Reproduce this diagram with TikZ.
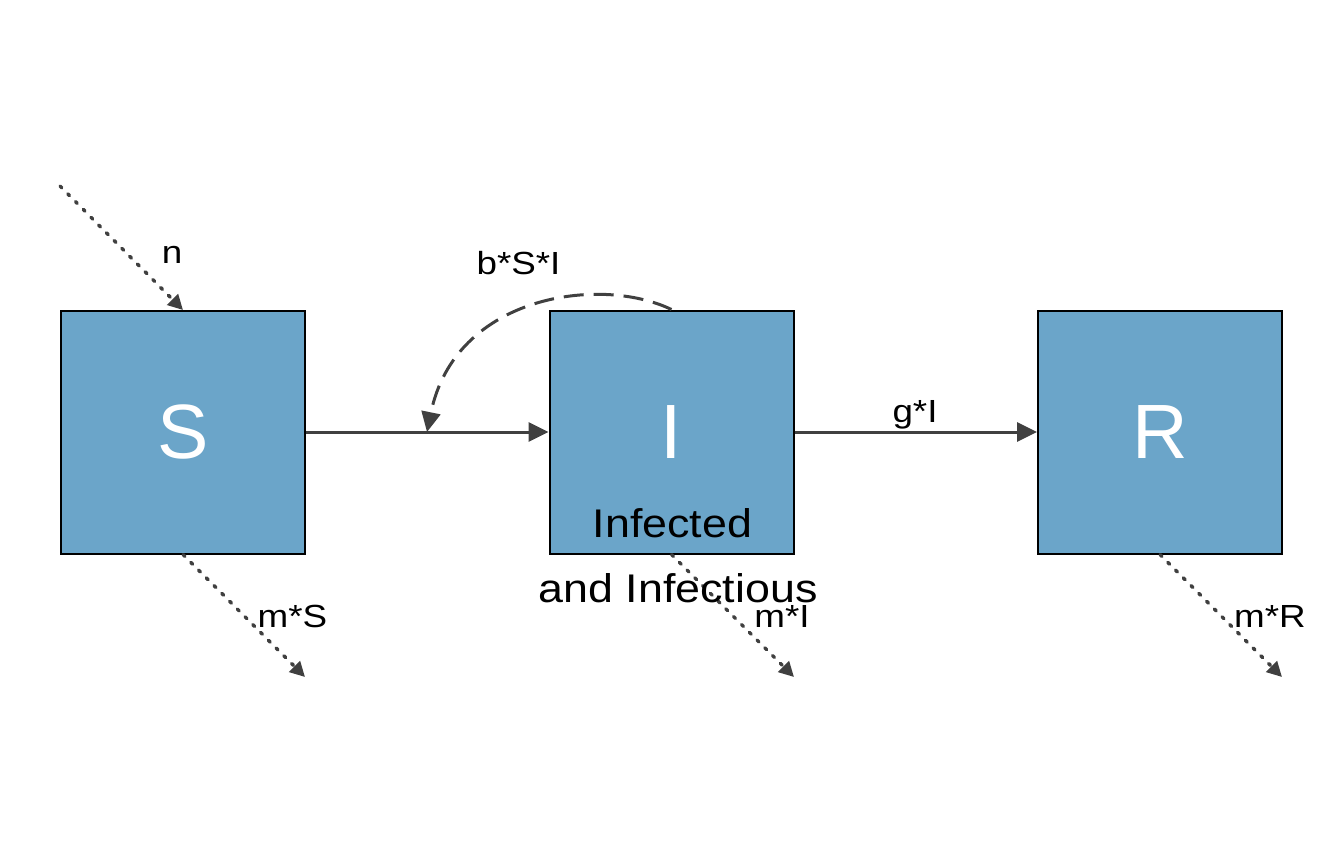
\documentclass[tikz,border=0pt]{standalone}
\usepackage{fontspec}
\setmainfont{Liberation Sans}
\usetikzlibrary{arrows.meta}
\definecolor{boxblue}{HTML}{6BA5C9}
\definecolor{flowgray}{HTML}{404040}
\newcommand{\wlab}[1]{\scalebox{1.15}[1]{#1}}
\newcommand{\wbig}[1]{\scalebox{1.12}[1]{#1}}
\tikzset{
  comp/.style={draw=black, line width=2pt, fill=boxblue, minimum width=244pt, minimum height=243pt, inner sep=0pt, text=white, font=\fontsize{77}{77}\selectfont},
  flow/.style={draw=flowgray, line width=3pt, -{Triangle[length=20pt,width=19pt]}},
  inter/.style={draw=flowgray, line width=3pt, dash pattern=on 20pt off 10pt, -{Triangle[length=20pt,width=19pt]}},
  extflow/.style={draw=flowgray, line width=3.5pt, line cap=round, dash pattern=on 2.5pt off 8.5pt, -{Triangle[length=15pt,width=15pt]}},
  lab/.style={font=\fontsize{32}{32}\selectfont, text=black, inner sep=0pt, anchor=base},
  biglab/.style={font=\fontsize{40}{40}\selectfont, text=black, inner sep=0pt, anchor=base}
}
\begin{document}
\begin{tikzpicture}[x=1pt, y=-1pt]
\useasboundingbox (0,0) rectangle (1344,865);
\node[comp] (S) at (183,432) {S};
\node[comp] (I) at (671.5,432) {I};
\node[comp] (R) at (1160,432) {R};
\coordinate (nsrc) at (60,186);
\coordinate (ntgt) at (183,310);
\coordinate (mS) at (305,677);
\coordinate (mI) at (794,677);
\coordinate (mR) at (1282,677);
\coordinate (hit) at (427,432);
\draw[flow] (S.east) -- (I.west);
\draw[flow] (I.east) -- (R.west);
\draw[inter] (I.north) .. controls (600,275) and (455,295) .. (hit);
\draw[extflow] (nsrc) -- (ntgt);
\draw[extflow] (S.south) -- (mS);
\draw[extflow] (I.south) -- (mI);
\draw[extflow] (R.south) -- (mR);
\node[lab] (ln) at (172,263) {\wlab{n}};
\node[lab] (lb) at (518.5,274) {\wlab{b*S*I}};
\node[lab] (lg) at (915,422) {\wlab{g*I}};
\node[lab] (lmS) at (292.5,627) {\wlab{m*S}};
\node[lab] (lmI) at (782,627) {\wlab{m*I}};
\node[lab] (lmR) at (1270,627) {\wlab{m*R}};
\node[biglab] (inf1) at (672.5,537) {\wbig{Infected}};
\node[biglab] (inf2) at (678,602) {\wbig{and Infectious}};
\end{tikzpicture}
\end{document}
